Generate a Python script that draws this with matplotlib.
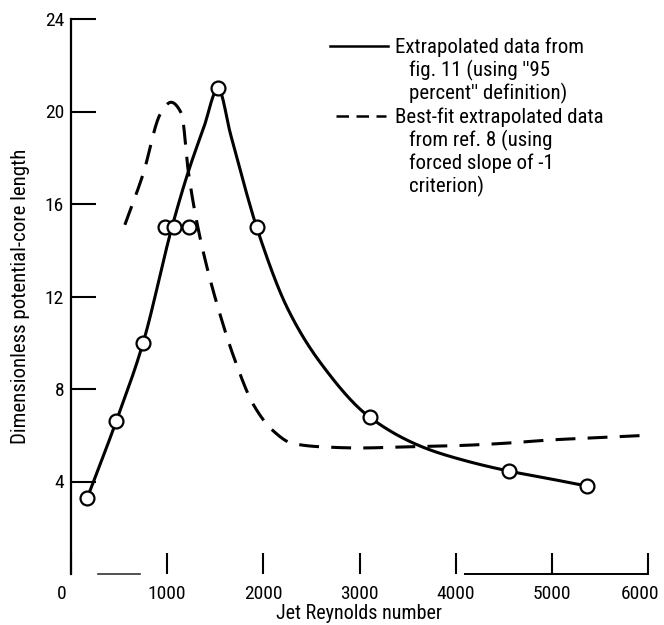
import numpy as np
import matplotlib
matplotlib.use("Agg")
import matplotlib.pyplot as plt
from matplotlib.lines import Line2D
from matplotlib.transforms import ScaledTranslation

plt.rcParams['font.family'] = ['Roboto Condensed', 'DejaVu Sans']
plt.rcParams['font.stretch'] = 'condensed'

# ---- data ----
re_pts = [170, 470, 750, 980, 1075, 1225, 1530, 1930, 3110, 4555, 5370]
len_pts = [3.3, 6.6, 10.0, 15.0, 15.0, 15.0, 21.0, 15.0, 6.8, 4.45, 3.8]

solid_re = [170, 470, 750, 1050, 1220, 1380, 1530, 1660, 1830, 1930, 2250, 2600, 3100, 3650, 4100, 4555, 5000, 5370]
solid_len = [3.3, 6.6, 10.0, 15.0, 17.4, 19.3, 21.0, 19.0, 16.4, 15.0, 11.5, 9.1, 6.8, 5.5, 4.9, 4.45, 4.1, 3.8]

dash_re = [560, 750, 930, 1040, 1150, 1220, 1300, 1400, 1530, 1700, 1900, 2100, 2300, 2600, 3000, 3500, 4000, 4500, 5000, 5500, 6000]
dash_len = [15.1, 17.3, 19.9, 20.4, 19.9, 17.4, 15.4, 13.5, 11.5, 9.3, 7.3, 6.2, 5.65, 5.5, 5.45, 5.5, 5.55, 5.65, 5.8, 5.9, 6.0]

x_ticks = [0, 1000, 2000, 3000, 4000, 5000, 6000]
y_ticks = [4, 8, 12, 16, 20, 24]

legend_solid = ["Extrapolated data from", "fig. 11 (using ''95", "percent'' definition)"]
legend_dash = ["Best-fit extrapolated data", "from ref. 8 (using", "forced slope of -1", "criterion)"]


def pchip(x, y, xs):
    x = np.asarray(x, float); y = np.asarray(y, float)
    h = np.diff(x); d = np.diff(y) / h
    n = len(x)
    m = np.zeros(n)
    for k in range(1, n - 1):
        if d[k - 1] * d[k] <= 0:
            m[k] = 0.0
        else:
            w1 = 2 * h[k] + h[k - 1]
            w2 = h[k] + 2 * h[k - 1]
            m[k] = (w1 + w2) / (w1 / d[k - 1] + w2 / d[k])
    m[0] = d[0]; m[-1] = d[-1]
    idx = np.clip(np.searchsorted(x, xs) - 1, 0, n - 2)
    t = (xs - x[idx]) / h[idx]
    h00 = 2 * t**3 - 3 * t**2 + 1
    h10 = t**3 - 2 * t**2 + t
    h01 = -2 * t**3 + 3 * t**2
    h11 = t**3 - t**2
    return h00 * y[idx] + h10 * h[idx] * m[idx] + h01 * y[idx + 1] + h11 * h[idx] * m[idx + 1]


W, H = 664, 625
fig = plt.figure(figsize=(W / 100, H / 100), dpi=100)
ax = fig.add_axes([71 / W, 1 - 574 / H, (648 - 71) / W, (574 - 19) / H])

xs = np.linspace(solid_re[0], solid_re[-1], 600)
ax.plot(xs, pchip(solid_re, solid_len, xs), color='black', lw=2.2, zorder=2)
xd = np.linspace(dash_re[0], dash_re[-1], 600)
ax.plot(xd, pchip(dash_re, dash_len, xd), color='black', lw=2.2,
        linestyle=(0, (6.5, 4)), zorder=2)
ax.plot(re_pts, len_pts, linestyle='none', marker='o', markersize=10,
        markerfacecolor='white', markeredgecolor='black', markeredgewidth=1.6, zorder=3)

ax.set_xlim(0, 6000)
ax.set_ylim(0, 24)
ax.set_xticks(x_ticks)
ax.set_xticklabels([str(v) for v in x_ticks])
ax.set_yticks(y_ticks)
ax.set_yticklabels([str(v) for v in y_ticks])
ax.tick_params(axis='y', direction='in', length=18, width=1.5, labelsize=14, pad=5)
ax.tick_params(axis='x', direction='in', length=15, width=1.5, labelsize=14, pad=8)

xl = ax.get_xticklabels()
xl[0].set_transform(xl[0].get_transform() + ScaledTranslation(-9 / 100, 0, fig.dpi_scale_trans))
xl[-1].set_transform(xl[-1].get_transform() + ScaledTranslation(-8 / 100, 0, fig.dpi_scale_trans))

for s in ['top', 'right', 'bottom']:
    ax.spines[s].set_visible(False)
ax.spines['left'].set_linewidth(1.6)
ax.plot([280, 720], [0, 0], color='#333333', lw=1.2, clip_on=False)
ax.plot([4100, 6000], [0, 0], color='black', lw=1.4, clip_on=False)

ax.set_xlabel('Jet Reynolds number', fontsize=14.5)
ax.set_ylabel('Dimensionless potential-core length', fontsize=15)
ax.xaxis.set_label_coords(0.5, (574 - 604) / 555)
ax.yaxis.set_label_coords((30 - 71) / 577, 0.5)

fs = 15
rows_solid = [47, 70, 93]
rows_dash = [117, 140, 163, 186]
fig.add_artist(Line2D([330 / W, 388 / W], [1 - 46 / H, 1 - 46 / H], color='black', lw=1.8))
fig.add_artist(Line2D([336 / W, 386 / W], [1 - 116 / H, 1 - 116 / H], color='black', lw=1.8,
                      linestyle=(0, (5, 3))))
for i, (txt, py) in enumerate(zip(legend_solid, rows_solid)):
    px = 395 if i == 0 else 409
    fig.text(px / W, 1 - py / H, txt, fontsize=fs, va='center', ha='left')
for i, (txt, py) in enumerate(zip(legend_dash, rows_dash)):
    px = 395 if i == 0 else 409
    fig.text(px / W, 1 - py / H, txt, fontsize=fs, va='center', ha='left')

fig.savefig('out.png', dpi=100)
